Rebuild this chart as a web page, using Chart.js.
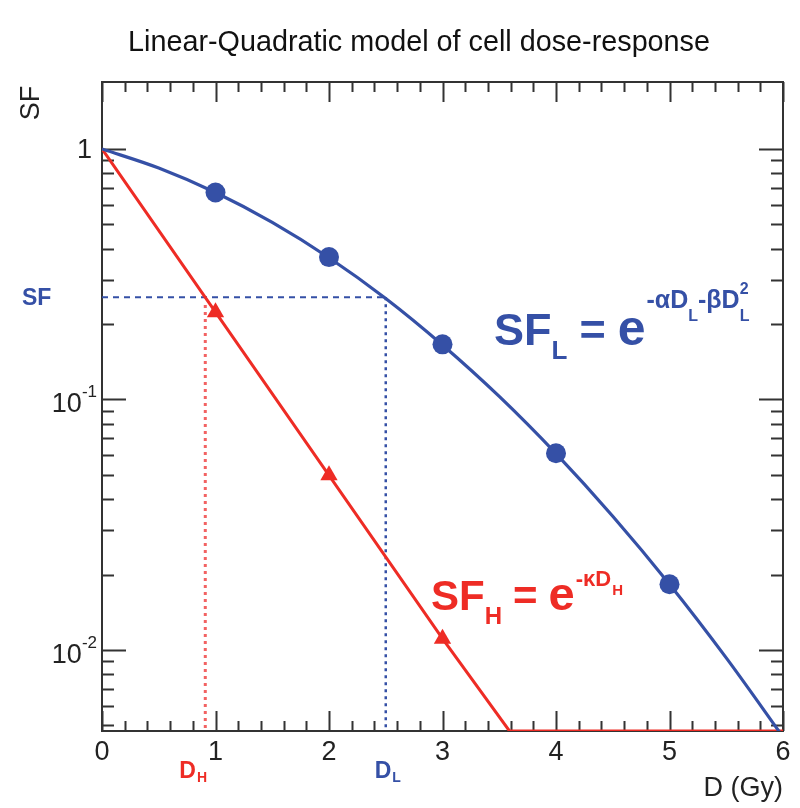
<!DOCTYPE html>
<html><head><meta charset="utf-8">
<script src="https://cdn.jsdelivr.net/npm/chart.js@4/dist/chart.umd.min.js"></script>
<style>html,body{margin:0;padding:0;background:#fff}#wrap{width:800px;height:808px}</style>
</head><body>
<div id="wrap"><canvas id="c" width="800" height="808"></canvas></div>
<script>
// ---- data ----
const doseLQ = [0, 0.5, 1, 1.5, 2, 2.5, 3, 3.5, 4, 4.5, 5, 5.5, 6];
const sfLQ   = [1, 0.839, 0.670, 0.509, 0.368, 0.253, 0.165, 0.1028, 0.0608, 0.0342, 0.0183, 0.0093, 0.0045];
const doseLQPoints = [1, 2, 3, 4, 5];
const sfLQPoints   = [0.67, 0.37, 0.166, 0.061, 0.0183];
const doseH  = [0, 1, 2, 3, 3.59, 6];
const sfH    = [1, 0.223, 0.0498, 0.0111, 0.00475, 0.00475];
const doseHPoints = [1, 2, 3];
const sfHPoints   = [0.223, 0.0498, 0.0111];
const sfLevel = 0.256;
const doseHLevel = 0.91;
const doseLLevel = 2.5;
const xRange = [0, 6];
const yRange = [0.00475, 1.85];
const xTickLabels = ['0', '1', '2', '3', '4', '5', '6'];
const yTickValues = [1, 0.1, 0.01];
const yTickBase = ['1', '10', '10'];
const yTickExp  = ['', '-1', '-2'];
const titleText = 'Linear-Quadratic model of cell dose-response';
const xTitle = 'D (Gy)';
const yTitle = 'SF';

const BLUE = '#3550a6';
const RED = '#ee2c25';
const AX = '#333';
const FONT = "'Liberation Sans', Arial, Helvetica, sans-serif";

const pts = (xs, ys) => xs.map((x, i) => ({x, y: ys[i]}));

function drawParts(ctx, x, y, parts, color) {
  ctx.save();
  ctx.fillStyle = color;
  ctx.textBaseline = 'alphabetic';
  ctx.textAlign = 'left';
  let cx = x, lastX = x;
  for (const p of parts) {
    ctx.font = (p.bold ? 'bold ' : '') + p.size + 'px ' + FONT;
    const px = p.stack ? lastX : cx + (p.gap || 0);
    ctx.fillText(p.t, px, y + (p.dy || 0));
    const w = ctx.measureText(p.t).width;
    lastX = px;
    cx = Math.max(cx, px + w);
  }
  ctx.restore();
}

const framePlugin = {
  id: 'frame',
  beforeDatasetsDraw(chart) {
    const ctx = chart.ctx, a = chart.chartArea;
    const xs = chart.scales.x, ys = chart.scales.y;
    ctx.save();
    ctx.strokeStyle = AX;
    ctx.lineWidth = 2;
    ctx.strokeRect(a.left, a.top, a.right - a.left, a.bottom - a.top);
    ctx.beginPath();
    for (let i = 0; i <= 30; i++) {
      const v = xRange[0] + i * 0.2;
      const px = Math.round(xs.getPixelForValue(v)) + 0.5;
      const len = (i % 5 === 0) ? 20 : 10;
      ctx.moveTo(px, a.bottom); ctx.lineTo(px, a.bottom - len);
      ctx.moveTo(px, a.top); ctx.lineTo(px, a.top + len);
    }
    for (let e = -3; e <= 0; e++) {
      for (let m = 1; m <= 9; m++) {
        const v = m * Math.pow(10, e);
        if (v < yRange[0] || v > yRange[1]) continue;
        const py = Math.round(ys.getPixelForValue(v)) + 0.5;
        const len = (m === 1) ? 24 : 12;
        ctx.moveTo(a.left, py); ctx.lineTo(a.left + len, py);
        ctx.moveTo(a.right, py); ctx.lineTo(a.right - len, py);
      }
    }
    ctx.stroke();
    ctx.restore();
  },
  afterDraw(chart) {
    const ctx = chart.ctx, a = chart.chartArea;
    const xs = chart.scales.x, ys = chart.scales.y;
    ctx.save();
    // title
    ctx.fillStyle = '#111';
    ctx.font = '30px ' + FONT;
    ctx.textBaseline = 'alphabetic';
    ctx.textAlign = 'center';
    const tw = ctx.measureText(titleText).width;
    ctx.save();
    ctx.translate(419, 51);
    ctx.scale(582 / tw, 1);
    ctx.fillText(titleText, 0, 0);
    ctx.restore();

    // x tick labels
    ctx.fillStyle = '#222';
    ctx.font = '27px ' + FONT;
    ctx.textAlign = 'center';
    xTickLabels.forEach((lab, i) => {
      ctx.fillText(lab, xs.getPixelForValue(i), a.bottom + 29);
    });
    ctx.textAlign = 'right';
    ctx.fillText(xTitle, a.right, a.bottom + 65);

    // y tick labels
    yTickValues.forEach((v, i) => {
      const py = ys.getPixelForValue(v);
      ctx.textAlign = 'right';
      if (yTickExp[i] === '') {
        ctx.font = '27px ' + FONT;
        ctx.fillText(yTickBase[i], 92, py + 9);
      } else {
        ctx.font = '17px ' + FONT;
        const ew = ctx.measureText(yTickExp[i]).width;
        ctx.fillText(yTickExp[i], 97, py - 2);
        ctx.font = '27px ' + FONT;
        ctx.fillText(yTickBase[i], 97 - ew, py + 13);
      }
    });
    // y title
    ctx.save();
    ctx.translate(39, 103);
    ctx.rotate(-Math.PI / 2);
    ctx.textAlign = 'center';
    ctx.font = '27px ' + FONT;
    ctx.fillText(yTitle, 0, 0);
    ctx.restore();
    ctx.restore();

    // annotations
    const ySF = ys.getPixelForValue(sfLevel);
    ctx.save();
    ctx.font = 'bold 23px ' + FONT;
    ctx.fillStyle = BLUE;
    ctx.textAlign = 'left';
    ctx.fillText('SF', 22, ySF + 8);
    ctx.restore();
    drawParts(ctx, xs.getPixelForValue(doseHLevel) - 26, a.bottom + 47,
      [{t: 'D', size: 23, bold: true}, {t: 'H', size: 14, bold: true, dy: 4, gap: 1}], RED);
    drawParts(ctx, xs.getPixelForValue(doseLLevel) - 11, a.bottom + 47,
      [{t: 'D', size: 23, bold: true}, {t: 'L', size: 14, bold: true, dy: 4, gap: 1}], BLUE);

    drawParts(ctx, 494, 345, [
      {t: 'SF', size: 45, bold: true},
      {t: 'L', size: 26, bold: true, dy: 14, gap: 0},
      {t: '=', size: 45, bold: true, gap: 12},
      {t: 'e', size: 50, bold: true, gap: 12},
      {t: '-\u03B1D', size: 25, bold: true, dy: -37, gap: 1},
      {t: 'L', size: 16, bold: true, dy: -24, gap: 0},
      {t: '-\u03B2D', size: 25, bold: true, dy: -37, gap: 0},
      {t: '2', size: 16, bold: true, dy: -51, gap: 0},
      {t: 'L', size: 16, bold: true, dy: -24, stack: true}
    ], BLUE);

    drawParts(ctx, 431, 610, [
      {t: 'SF', size: 42, bold: true},
      {t: 'H', size: 24, bold: true, dy: 14, gap: 0},
      {t: '=', size: 42, bold: true, gap: 11},
      {t: 'e', size: 47, bold: true, gap: 11},
      {t: '-\u03BAD', size: 22, bold: true, dy: -24, gap: 1},
      {t: 'H', size: 15, bold: true, dy: -15, gap: 1}
    ], RED);
  }
};

const ds = [
  {data: pts(doseLQPoints, sfLQPoints), showLine: false, pointRadius: 10, pointStyle: 'circle',
   backgroundColor: BLUE, borderColor: BLUE, pointBorderWidth: 0},
  {data: pts(doseHPoints, sfHPoints), showLine: false, pointRadius: 10, pointStyle: 'triangle',
   backgroundColor: RED, borderColor: RED, pointBorderWidth: 0},
  {data: pts(doseLQ, sfLQ), borderColor: BLUE, borderWidth: 3.2, pointRadius: 0,
   cubicInterpolationMode: 'monotone', fill: false},
  {data: pts(doseH, sfH), borderColor: RED, borderWidth: 3, pointRadius: 0, tension: 0, fill: false},
  {data: [{x: xRange[0], y: sfLevel}, {x: doseLLevel, y: sfLevel}], borderColor: BLUE, borderWidth: 2,
   borderDash: [6, 5], pointRadius: 0},
  {data: [{x: doseLLevel, y: sfLevel}, {x: doseLLevel, y: yRange[0]}], borderColor: BLUE, borderWidth: 2.5,
   borderDash: [3, 4], pointRadius: 0},
  {data: [{x: doseHLevel, y: sfLevel * 0.93}, {x: doseHLevel, y: yRange[0]}], borderColor: 'rgba(240,70,70,0.85)',
   borderWidth: 3, borderDash: [3, 4], pointRadius: 0}
];

new Chart(document.getElementById('c'), {
  type: 'line',
  data: {datasets: ds},
  options: {
    responsive: false,
    animation: false,
    layout: {padding: {left: 102, right: 17, top: 82, bottom: 77}},
    plugins: {legend: {display: false}, tooltip: {enabled: false}, title: {display: false}},
    scales: {
      x: {type: 'linear', min: xRange[0], max: xRange[1], display: false},
      y: {type: 'logarithmic', min: yRange[0], max: yRange[1], display: false}
    }
  },
  plugins: [framePlugin]
});
</script>
</body></html>
